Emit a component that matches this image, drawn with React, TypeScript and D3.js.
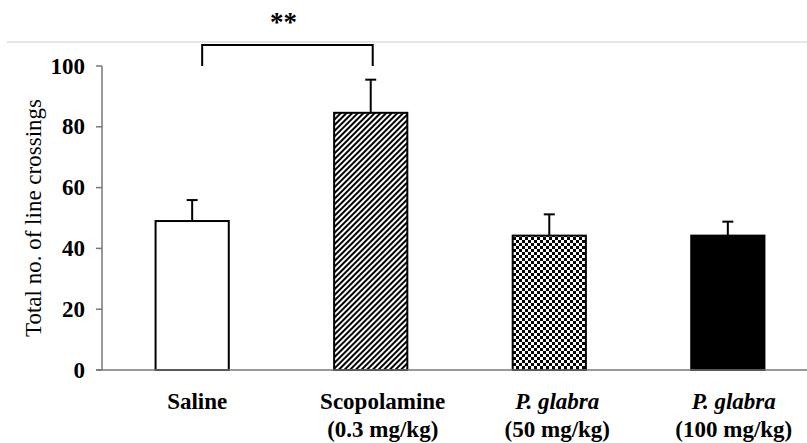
import * as React from 'react';
import * as d3 from 'd3';

const groups = ['saline', 'scop', 'pg50', 'pg100'];
const labelTop = ['Saline', 'Scopolamine', 'P. glabra', 'P. glabra'];
const labelBottom = ['', '(0.3 mg/kg)', '(50 mg/kg)', '(100 mg/kg)'];
const italicTop = [false, false, true, true];
const means = [49, 84.6, 44.2, 44.2];
const errors = [6.9, 10.9, 7, 4.6];
const fills = ['#fff', 'url(#hatch)', 'url(#checker)', '#000'];
const yTicks = [0, 20, 40, 60, 80, 100];

const FONT = "'Liberation Serif', 'Times New Roman', serif";
// labels sit a little right of their bars in the original
const labelShift = [5, 12, 8, 6];

export default function App() {
	const width = 807;
	const height = 443;

	const x = d3.scaleBand<string>().domain(groups).range([102, 818]).paddingInner(0.59).paddingOuter(0.3);
	const y = d3.scaleLinear().domain([0, 100]).range([370, 66]);
	const bw = x.bandwidth();
	const cx = (g: string) => (x(g) as number) + bw / 2;

	// significance bracket between saline and scopolamine
	const bx1 = cx('saline') + 10;
	const bx2 = cx('scop') + 2;

	return (
		<svg
			width={width}
			height={height}
			style={{ position: 'absolute', left: 0, top: 0, background: '#fff' }}
			fontFamily={FONT}
		>
			<defs>
				<pattern id='hatch' width={4} height={4} patternUnits='userSpaceOnUse' patternTransform='rotate(45)'>
					<rect width={4} height={4} fill='#fff' />
					<line x1={1} y1={0} x2={1} y2={4} stroke='#000' strokeWidth={2} />
				</pattern>
				<pattern id='checker' width={6} height={6} patternUnits='userSpaceOnUse'>
					<rect width={6} height={6} fill='#fff' />
					<rect width={3} height={3} fill='#000' />
					<rect x={3} y={3} width={3} height={3} fill='#000' />
				</pattern>
			</defs>

			<line x1={7} x2={807} y1={42} y2={42} stroke='#ddd' strokeWidth={1.5} />

			{/* y axis */}
			<line x1={102} x2={102} y1={y(100)} y2={y(0)} stroke='#777' strokeWidth={1.5} />
			{yTicks.map(t => (
				<g key={t}>
					<line x1={96} x2={102} y1={y(t)} y2={y(t)} stroke='#777' strokeWidth={1.5} />
					<text
						x={85}
						y={y(t)}
						textAnchor='end'
						dominantBaseline='central'
						fontSize={23}
						fontWeight='bold'
					>
						{t}
					</text>
				</g>
			))}
			<text
				transform={`translate(33 ${(y(0) + y(100)) / 2 - 0}) rotate(-90)`}
				textAnchor='middle'
				dominantBaseline='central'
				fontSize={23}
			>
				Total no. of line crossings
			</text>

			{/* bars */}
			{groups.map((g, i) => (
				<g key={g}>
					<line
						x1={cx(g)}
						x2={cx(g)}
						y1={y(means[i])}
						y2={y(means[i] + errors[i])}
						stroke='#000'
						strokeWidth={2}
					/>
					<line
						x1={cx(g) - 5.5}
						x2={cx(g) + 5.5}
						y1={y(means[i] + errors[i])}
						y2={y(means[i] + errors[i])}
						stroke='#000'
						strokeWidth={2}
					/>
					<rect
						x={x(g)}
						y={y(means[i])}
						width={bw}
						height={y(0) - y(means[i])}
						fill={fills[i]}
						stroke='#000'
						strokeWidth={2}
					/>
				</g>
			))}

			{/* x axis */}
			<line x1={96} x2={807} y1={y(0)} y2={y(0)} stroke='#777' strokeWidth={1.5} />
			{groups.map((g, i) => (
				<g key={g} fontSize={23} fontWeight='bold' textAnchor='middle'>
					<text x={cx(g) + labelShift[i]} y={409} fontStyle={italicTop[i] ? 'italic' : 'normal'}>
						{labelTop[i]}
					</text>
					{labelBottom[i] ? (
						<text x={cx(g) + labelShift[i]} y={437}>
							{labelBottom[i]}
						</text>
					) : null}
				</g>
			))}

			{/* bracket */}
			<path
				d={`M${bx1},${y(100)} V45 H${bx2} V${y(100)}`}
				fill='none'
				stroke='#000'
				strokeWidth={2}
			/>
			<text x={(bx1 + bx2) / 2 - 4} y={31} textAnchor='middle' fontSize={27} fontWeight='bold'>
				**
			</text>
		</svg>
	);
}
